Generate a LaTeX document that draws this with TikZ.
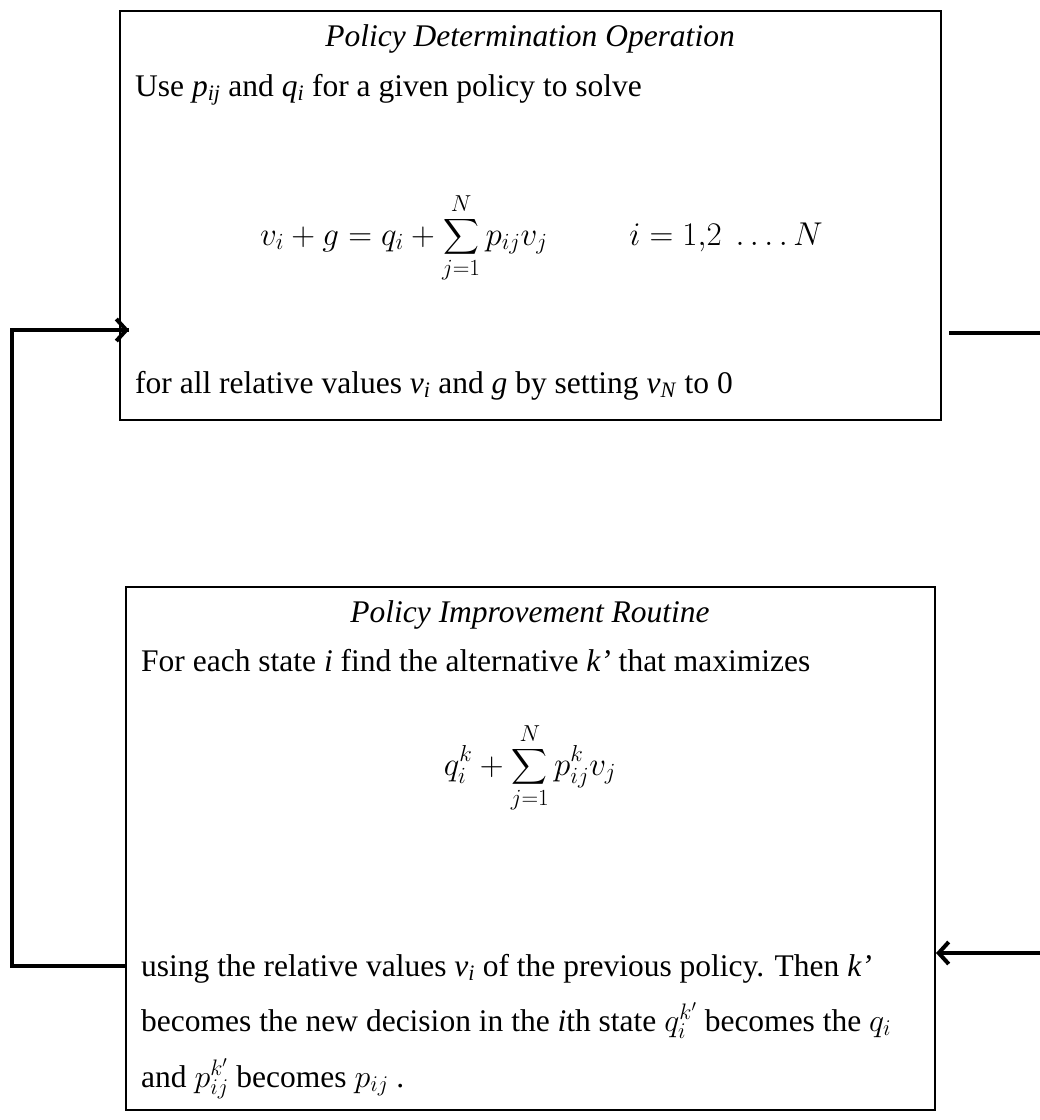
\RequirePackage{fix-cm}
\documentclass[tikz,border=0pt]{standalone}
\usepackage{amsmath}
\usepackage{fontspec}
\setmainfont{Liberation Serif}
\usetikzlibrary{arrows.meta}
\newcommand{\vi}[1]{\textit{#1}}
\newcommand{\vs}[2]{\textit{#1}\textsubscript{\textit{#2}}}
\newcommand{\bm}[1]{{\fontsize{32}{38}\selectfont$#1$}}
\begin{document}
\begin{tikzpicture}[x=1pt,y=-1pt,
  box/.style={draw,line width=2pt,inner sep=0pt},
  txt/.style={inner sep=0pt,anchor=base west,font=\fontsize{31.5}{36}\selectfont},
  ttl/.style={inner sep=0pt,anchor=base,font=\fontsize{31.5}{36}\selectfont\itshape},
  eqn/.style={inner sep=0pt,anchor=base,font=\fontsize{33}{40}\selectfont},
  conn/.style={line width=4pt},
  shd/.style={line width=4pt,black!25},
  tip/.style={-{Straight Barb[length=10pt,width=22pt,line width=4pt]}}]
\useasboundingbox (0,0) rectangle (1040,1120);
% boxes
\node[box,minimum width=821,minimum height=409] (opbox) at (530.5,215.5) {};
\node[box,minimum width=809,minimum height=523] (impbox) at (530.5,848.5) {};
% top box texts
\node[ttl] (optitle) at (530,46) {Policy Determination Operation};
\node[txt] (opuse) at (135,96) {Use \vs{p}{ij} and \vs{q}{i} for a given policy to solve};
\node[eqn,anchor=base west] (opeq) at (260,245) {$\displaystyle v_i + g = q_i + \sum_{j=1}^{N} p_{ij}v_j \hspace{82pt} i = 1{,}2\ \ldots.\,N$};
\node[txt] (opfor) at (135,393) {for all relative values \vs{v}{i} and \vi{g} by setting \vs{v}{N} to 0};
% bottom box texts
\node[ttl] (imptitle) at (530,622) {Policy Improvement Routine};
\node[txt] (impfor) at (141,671) {For each state \vi{i} find the alternative \vi{k’} that maximizes};
\node[eqn] (impeq) at (530,775) {$\displaystyle q_i^k + \sum_{j=1}^{N} p_{ij}^k v_j$};
\node[txt] (impusing) at (141,976) {using the relative values \vs{v}{i} of the previous policy. Then \vi{k’}};
\node[txt] (impbec) at (141,1031) {becomes the new decision in the \vi{i}th state \bm{q_i^{k'}} becomes the \bm{q_i}};
\node[txt] (impand) at (141,1087) {and \bm{p_{ij}^{k'}} becomes \bm{p_{ij}} .};
% connectors
\coordinate (lowL) at (12,966);
\coordinate (upL) at (12,330);
\coordinate (rT) at (1040,333);
\coordinate (rB) at (1040,953);
\begin{scope}[shift={(3,5)}]
\draw[shd] (impbox.west |- lowL) -- (lowL) -- (upL) -- ([xshift=-8pt]opbox.west |- upL);
\draw[shd] ([xshift=7pt]opbox.east |- rT) -- (rT);
\draw[shd] (rB) -- ([xshift=12pt]impbox.east |- rB);
\end{scope}
\draw[conn,line join=miter] (impbox.west |- lowL) -- (lowL) -- (upL) -- ([xshift=10pt]opbox.west |- upL);
\draw[conn,tip] ([xshift=-8pt]opbox.west |- upL) -- ([xshift=10pt]opbox.west |- upL);
\draw[conn] ([xshift=7pt]opbox.east |- rT) -- (rT);
\draw[conn,tip] (rB) -- (impbox.east |- rB);
\end{tikzpicture}
\end{document}
